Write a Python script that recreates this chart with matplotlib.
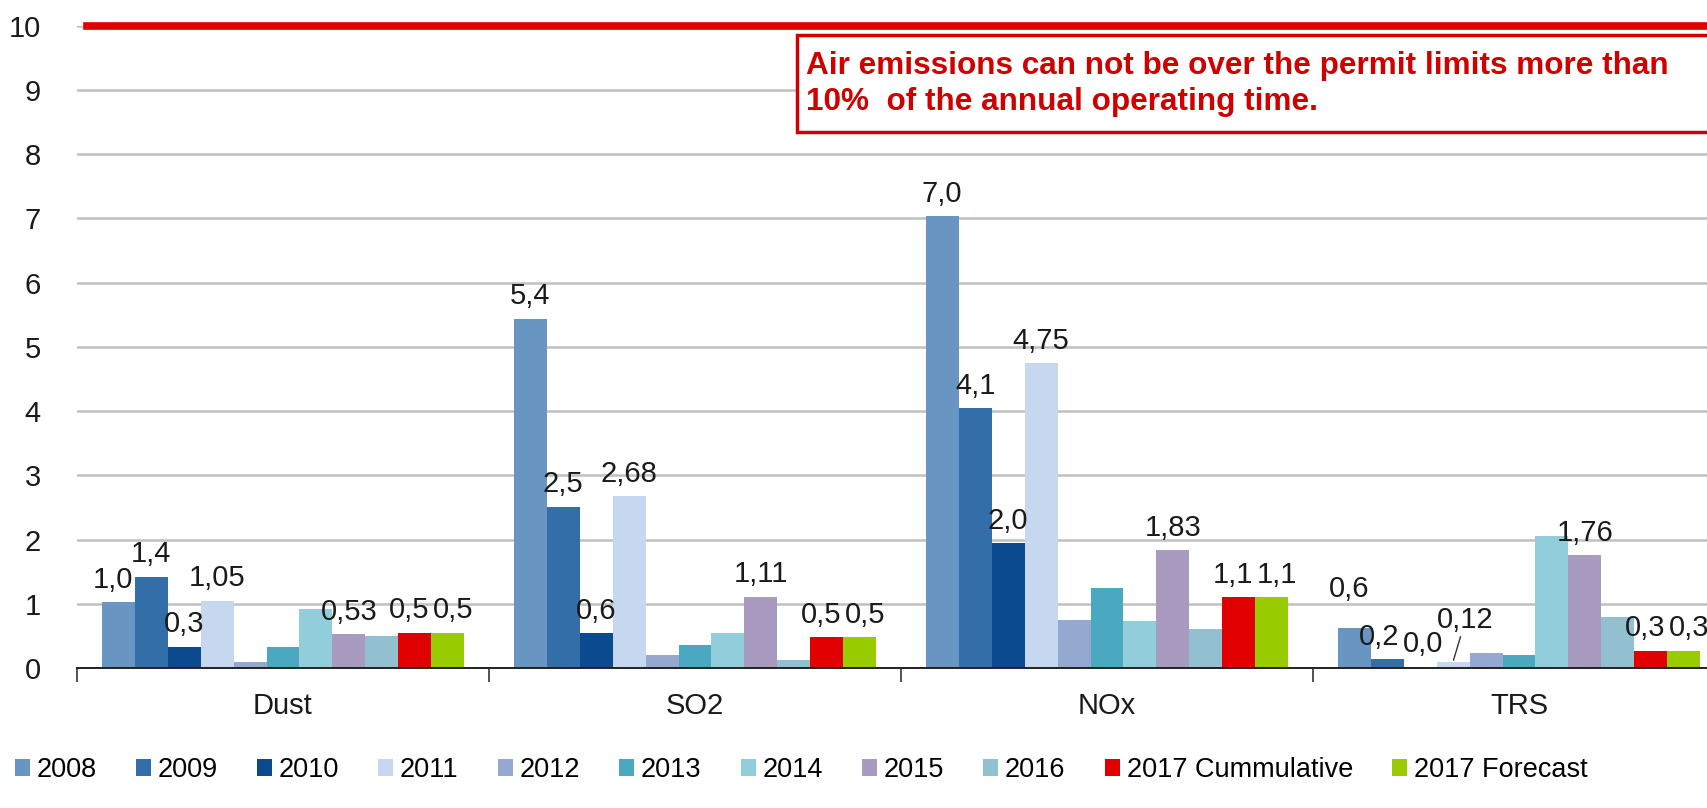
import matplotlib
matplotlib.use("Agg")
import matplotlib.pyplot as plt
from matplotlib.patches import Patch, Rectangle
import numpy as np

plt.rcParams['font.family'] = ['Liberation Sans', 'DejaVu Sans']

categories = ["Dust", "SO2", "NOx", "TRS"]
series_names = ["2008", "2009", "2010", "2011", "2012", "2013", "2014", "2015",
                "2016", "2017 Cummulative", "2017 Forecast"]
colors = ["#6895c2", "#336ea8", "#0b4a8f", "#c6d8ef", "#95a8cf", "#4aa9c1",
          "#91cddb", "#a89bbf", "#92c0d1", "#e00000", "#99cc00"]

# values[series][category]
v2008 = [1.03, 5.44, 7.03, 0.62]
v2009 = [1.42, 2.51, 4.05, 0.14]
v2010 = [0.33, 0.54, 1.94, 0.02]
v2011 = [1.05, 2.68, 4.75, 0.10]
v2012 = [0.10, 0.20, 0.74, 0.23]
v2013 = [0.33, 0.36, 1.24, 0.21]
v2014 = [0.92, 0.54, 0.73, 2.06]
v2015 = [0.53, 1.11, 1.83, 1.76]
v2016 = [0.50, 0.12, 0.60, 0.80]
v2017c = [0.55, 0.48, 1.10, 0.27]
v2017f = [0.55, 0.48, 1.10, 0.27]
values = [v2008, v2009, v2010, v2011, v2012, v2013, v2014, v2015, v2016, v2017c, v2017f]

# data labels (None = no label)
lab2008 = ["1,0", "5,4", "7,0", "0,6"]
lab2009 = ["1,4", "2,5", "4,1", "0,2"]
lab2010 = ["0,3", "0,6", "2,0", "0,0"]
lab2011 = ["1,05", "2,68", "4,75", "0,12"]
lab2015 = ["0,53", "1,11", "1,83", "1,76"]
lab2017c = ["0,5", "0,5", "1,1", "0,3"]
lab2017f = ["0,5", "0,5", "1,1", "0,3"]
labels = [lab2008, lab2009, lab2010, lab2011, None, None, None, lab2015, None,
          lab2017c, lab2017f]

limit_value = 10
note = "Air emissions can not be over the permit limits more than\n10%  of the annual operating time."
yticks = list(range(0, 11))

W, H = 1708, 808
fig = plt.figure(figsize=(W / 100, H / 100), dpi=100)
ax = fig.add_axes([77 / W, 140 / H, 1648 / W, 642.3 / H])

LFS = 21
# label nudges in points (dx, dy), to mimic the reference placement
nudge = {("2008", "Dust"): (-4, 6),
         ("2008", "TRS"): (-4, 18),
         ("2009", "TRS"): (-6, 6),
         ("2010", "TRS"): (2, 6)}
for cat in categories:
    nudge[("2017 Cummulative", cat)] = (-4, 6)
    nudge[("2017 Forecast", cat)] = (4, 6)

n = len(series_names)
gap = 1.5
bw = 1.0 / (n + gap)
edge = gap * bw / 2
for j, (name, vals, col) in enumerate(zip(series_names, values, colors)):
    xs = [i + edge + (j + 0.5) * bw for i in range(len(categories))]
    ax.bar(xs, vals, width=bw, color=col, label=name, zorder=2, linewidth=0)
    labs = labels[j]
    if labs is None:
        continue
    for ci, (x, v, t) in enumerate(zip(xs, vals, labs)):
        if t is None:
            continue
        cat = categories[ci]
        if name == "2011" and cat == "TRS":
            ax.annotate(t, xy=(x, v), xytext=(9, 20), textcoords="offset points",
                        ha="center", va="bottom", fontsize=LFS, color="#1a1a1a",
                        arrowprops=dict(arrowstyle="-", color="#333333", lw=1,
                                        shrinkA=0, shrinkB=1))
        else:
            dx, dy = nudge.get((name, cat), (0, 6))
            ax.annotate(t, xy=(x, v), xytext=(dx, dy), textcoords="offset points",
                        ha="center", va="bottom", fontsize=LFS, color="#1a1a1a")

ax.set_xlim(0, 4)
ax.set_ylim(0, 10)
ax.set_yticks(yticks)
ax.tick_params(axis="y", length=0, pad=26, labelsize=21, colors="#1a1a1a")
ax.yaxis.grid(True, color="#c0c0c0", lw=1.8)
ax.set_axisbelow(True)

ax.set_xticks(range(0, 5))
ax.set_xticklabels([])
ax.set_xticks([i + 0.5 for i in range(len(categories))], minor=True)
ax.set_xticklabels(categories, minor=True, fontsize=21, color="#1a1a1a")
ax.tick_params(axis="x", which="major", length=10, width=1.2, color="#333333", direction="out")
ax.tick_params(axis="x", which="minor", length=0, pad=17)

for s in ["top", "right", "left"]:
    ax.spines[s].set_visible(False)
ax.spines["bottom"].set_color("#222222")
ax.spines["bottom"].set_linewidth(1.4)

ax.axhline(limit_value, xmin=0.006, color="#e00000", lw=5.5, zorder=4, clip_on=False)

handles = [Patch(facecolor=c, edgecolor="none") for c in colors]
fig.legend(handles, series_names, loc="center left", bbox_to_anchor=(4 / W, 1 - 770 / H),
           ncol=n, frameon=False, fontsize=19.5, handlelength=0.55, handleheight=0.55,
           handletextpad=0.25, columnspacing=1.45, borderaxespad=0)

box = Rectangle((797 / W, 1 - 132 / H), 0.6, 97 / H, transform=fig.transFigure,
                facecolor="white", edgecolor="#d00000", lw=2.5, zorder=5)
fig.add_artist(box)
fig.text(806 / W, 1 - 84 / H, note, color="#d00000", fontweight="bold", fontsize=22.7,
         ha="left", va="center", linespacing=1.27, zorder=6)

fig.savefig("out.png", dpi=100)
